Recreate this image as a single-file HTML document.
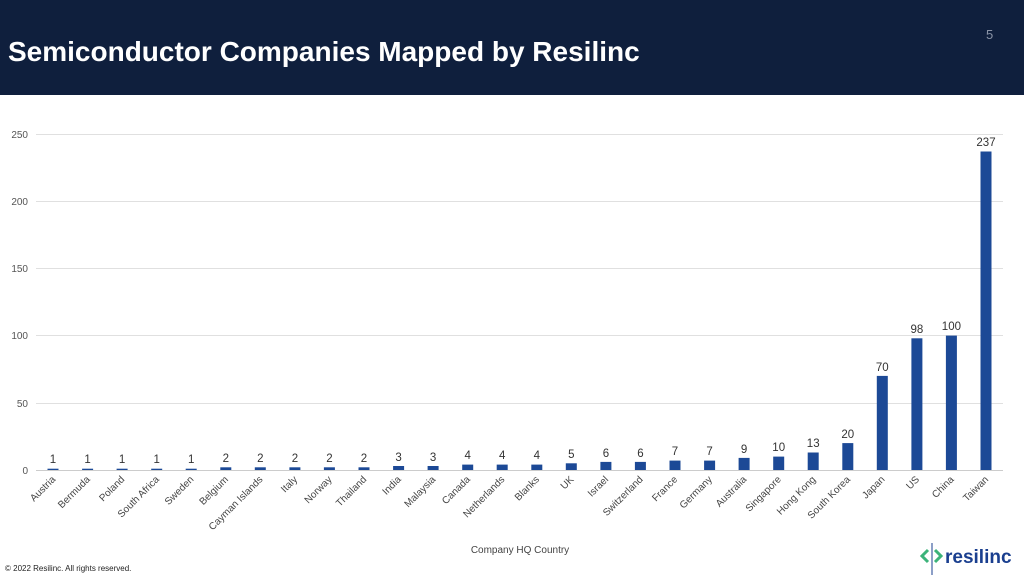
<!DOCTYPE html>
<html><head><style>
body{margin:0;width:1024px;height:577px;overflow:hidden;background:#fff;font-family:"Liberation Sans",sans-serif}
</style></head><body>
<svg width="1024" height="577" xmlns="http://www.w3.org/2000/svg" font-family="Liberation Sans, sans-serif">
<rect x="0" y="0" width="1024" height="95" fill="#0f1f3d"/>
<text x="8" y="61" fill="#fff" font-size="28" font-weight="bold">Semiconductor Companies Mapped by Resilinc</text>
<text x="986" y="39" fill="#8a93a6" font-size="13">5</text>
<g stroke="#e0e0e0" stroke-width="1">
<line x1="36" x2="1003" y1="134.5" y2="134.5"/>
<line x1="36" x2="1003" y1="201.5" y2="201.5"/>
<line x1="36" x2="1003" y1="268.5" y2="268.5"/>
<line x1="36" x2="1003" y1="335.5" y2="335.5"/>
<line x1="36" x2="1003" y1="403.5" y2="403.5"/>
</g>
<line x1="36" x2="1003" y1="470.5" y2="470.5" stroke="#ccc"/>
<g font-size="10" fill="#555" text-anchor="end">
<text x="28" y="138">250</text><text x="28" y="205">200</text><text x="28" y="272">150</text>
<text x="28" y="339">100</text><text x="28" y="407">50</text><text x="28" y="474">0</text>
</g>
<g fill="#1c4996">
<rect x="47.5" y="468.7" width="11" height="1.3"/>
<rect x="82.1" y="468.7" width="11" height="1.3"/>
<rect x="116.6" y="468.7" width="11" height="1.3"/>
<rect x="151.2" y="468.7" width="11" height="1.3"/>
<rect x="185.7" y="468.7" width="11" height="1.3"/>
<rect x="220.3" y="467.3" width="11" height="2.7"/>
<rect x="254.8" y="467.3" width="11" height="2.7"/>
<rect x="289.4" y="467.3" width="11" height="2.7"/>
<rect x="323.9" y="467.3" width="11" height="2.7"/>
<rect x="358.5" y="467.3" width="11" height="2.7"/>
<rect x="393.1" y="466" width="11" height="4"/>
<rect x="427.6" y="466" width="11" height="4"/>
<rect x="462.2" y="464.6" width="11" height="5.4"/>
<rect x="496.7" y="464.6" width="11" height="5.4"/>
<rect x="531.3" y="464.6" width="11" height="5.4"/>
<rect x="565.8" y="463.3" width="11" height="6.7"/>
<rect x="600.4" y="461.9" width="11" height="8.1"/>
<rect x="634.9" y="461.9" width="11" height="8.1"/>
<rect x="669.5" y="460.6" width="11" height="9.4"/>
<rect x="704.1" y="460.6" width="11" height="9.4"/>
<rect x="738.6" y="457.9" width="11" height="12.1"/>
<rect x="773.2" y="456.6" width="11" height="13.4"/>
<rect x="807.7" y="452.5" width="11" height="17.5"/>
<rect x="842.3" y="443.1" width="11" height="26.9"/>
<rect x="876.8" y="375.9" width="11" height="94.1"/>
<rect x="911.4" y="338.3" width="11" height="131.7"/>
<rect x="945.9" y="335.6" width="11" height="134.4"/>
<rect x="980.5" y="151.5" width="11" height="318.5"/>
</g>
<g font-size="11.5" fill="#333" text-anchor="middle">
<text x="53" y="463">1</text><text x="87.6" y="463">1</text><text x="122.1" y="463">1</text><text x="156.7" y="463">1</text><text x="191.2" y="463">1</text>
<text x="225.8" y="462">2</text><text x="260.3" y="462">2</text><text x="294.9" y="462">2</text><text x="329.4" y="462">2</text><text x="364" y="462">2</text>
<text x="398.6" y="461">3</text><text x="433.1" y="461">3</text>
<text x="467.7" y="459">4</text><text x="502.2" y="459">4</text><text x="536.8" y="459">4</text>
<text x="571.3" y="458">5</text><text x="605.9" y="457">6</text><text x="640.4" y="457">6</text>
<text x="675" y="455">7</text><text x="709.6" y="455">7</text><text x="744.1" y="453">9</text>
<text x="778.7" y="451">10</text><text x="813.2" y="447">13</text><text x="847.8" y="438">20</text>
<text x="882.3" y="371">70</text><text x="916.9" y="333">98</text><text x="951.4" y="330">100</text><text x="986" y="146">237</text>
</g>
<g font-size="10" fill="#444" text-anchor="end">
<text transform="translate(56,480) rotate(-45)">Austria</text>
<text transform="translate(90.6,480) rotate(-45)">Bermuda</text>
<text transform="translate(125.1,480) rotate(-45)">Poland</text>
<text transform="translate(159.7,480) rotate(-45)">South Africa</text>
<text transform="translate(194.2,480) rotate(-45)">Sweden</text>
<text transform="translate(228.8,480) rotate(-45)">Belgium</text>
<text transform="translate(263.3,480) rotate(-45)">Cayman Islands</text>
<text transform="translate(297.9,480) rotate(-45)">Italy</text>
<text transform="translate(332.4,480) rotate(-45)">Norway</text>
<text transform="translate(367,480) rotate(-45)">Thailand</text>
<text transform="translate(401.6,480) rotate(-45)">India</text>
<text transform="translate(436.1,480) rotate(-45)">Malaysia</text>
<text transform="translate(470.7,480) rotate(-45)">Canada</text>
<text transform="translate(505.2,480) rotate(-45)">Netherlands</text>
<text transform="translate(539.8,480) rotate(-45)">Blanks</text>
<text transform="translate(574.3,480) rotate(-45)">UK</text>
<text transform="translate(608.9,480) rotate(-45)">Israel</text>
<text transform="translate(643.4,480) rotate(-45)">Switzerland</text>
<text transform="translate(678,480) rotate(-45)">France</text>
<text transform="translate(712.6,480) rotate(-45)">Germany</text>
<text transform="translate(747.1,480) rotate(-45)">Australia</text>
<text transform="translate(781.7,480) rotate(-45)">Singapore</text>
<text transform="translate(816.2,480) rotate(-45)">Hong Kong</text>
<text transform="translate(850.8,480) rotate(-45)">South Korea</text>
<text transform="translate(885.3,480) rotate(-45)">Japan</text>
<text transform="translate(919.9,480) rotate(-45)">US</text>
<text transform="translate(954.4,480) rotate(-45)">China</text>
<text transform="translate(989,480) rotate(-45)">Taiwan</text>
</g>
<text x="520" y="553" font-size="10" fill="#444" text-anchor="middle">Company HQ Country</text>
<text x="5" y="571" font-size="8" fill="#222">© 2022 Resilinc. All rights reserved.</text>
<g>
<line x1="932" y1="543" x2="932" y2="575" stroke="#1a3f8f" stroke-width="1"/>
<polyline points="928,550 922,556 928,562" fill="none" stroke="#3cb37a" stroke-width="3"/>
<polyline points="935,550 941,556 935,562" fill="none" stroke="#3cb37a" stroke-width="3"/>
<text x="945" y="563" font-size="19" font-weight="bold" fill="#1a3f8f">resilinc</text>
</g>
</svg>
</body></html>
